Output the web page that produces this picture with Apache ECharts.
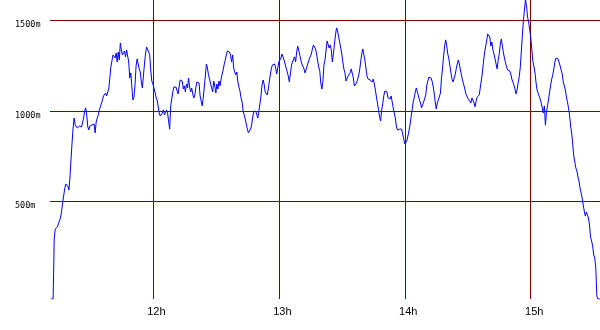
<!DOCTYPE html>
<html><head><meta charset="utf-8">
<script src="https://cdn.jsdelivr.net/npm/echarts@6/dist/echarts.min.js"></script>
<style>html,body{margin:0;padding:0;background:#fff}#c{width:600px;height:330px}</style>
</head><body><div id="c"></div>
<script>
// time of day in minutes since midnight (30 s log interval)
const timesMin = [
671.5,672,672.5,673,673.5,674,674.5,675,675.5,676,
676.5,677,677.5,678,678.5,679,679.5,680,680.5,681,
681.5,682,682.5,683,683.5,684,684.5,685,685.5,686,
686.5,687,687.5,688,688.5,689,689.5,690,690.5,691,
691.5,692,692.5,693,693.5,694,694.5,695,695.5,696,
696.5,697,697.5,698,698.5,699,699.5,700,700.5,701,
701.5,702,702.5,703,703.5,704,704.5,705,705.5,706,
706.5,707,707.5,708,708.5,709,709.5,710,710.5,711,
711.5,712,712.5,713,713.5,714,714.5,715,715.5,716,
716.5,717,717.5,718,718.5,719,719.5,720,720.5,721,
721.5,722,722.5,723,723.5,724,724.5,725,725.5,726,
726.5,727,727.5,728,728.5,729,729.5,730,730.5,731,
731.5,732,732.5,733,733.5,734,734.5,735,735.5,736,
736.5,737,737.5,738,738.5,739,739.5,740,740.5,741,
741.5,742,742.5,743,743.5,744,744.5,745,745.5,746,
746.5,747,747.5,748,748.5,749,749.5,750,750.5,751,
751.5,752,752.5,753,753.5,754,754.5,755,755.5,756,
756.5,757,757.5,758,758.5,759,759.5,760,760.5,761,
761.5,762,762.5,763,763.5,764,764.5,765,765.5,766,
766.5,767,767.5,768,768.5,769,769.5,770,770.5,771,
771.5,772,772.5,773,773.5,774,774.5,775,775.5,776,
776.5,777,777.5,778,778.5,779,779.5,780,780.5,781,
781.5,782,782.5,783,783.5,784,784.5,785,785.5,786,
786.5,787,787.5,788,788.5,789,789.5,790,790.5,791,
791.5,792,792.5,793,793.5,794,794.5,795,795.5,796,
796.5,797,797.5,798,798.5,799,799.5,800,800.5,801,
801.5,802,802.5,803,803.5,804,804.5,805,805.5,806,
806.5,807,807.5,808,808.5,809,809.5,810,810.5,811,
811.5,812,812.5,813,813.5,814,814.5,815,815.5,816,
816.5,817,817.5,818,818.5,819,819.5,820,820.5,821,
821.5,822,822.5,823,823.5,824,824.5,825,825.5,826,
826.5,827,827.5,828,828.5,829,829.5,830,830.5,831,
831.5,832,832.5,833,833.5,834,834.5,835,835.5,836,
836.5,837,837.5,838,838.5,839,839.5,840,840.5,841,
841.5,842,842.5,843,843.5,844,844.5,845,845.5,846,
846.5,847,847.5,848,848.5,849,849.5,850,850.5,851,
851.5,852,852.5,853,853.5,854,854.5,855,855.5,856,
856.5,857,857.5,858,858.5,859,859.5,860,860.5,861,
861.5,862,862.5,863,863.5,864,864.5,865,865.5,866,
866.5,867,867.5,868,868.5,869,869.5,870,870.5,871,
871.5,872,872.5,873,873.5,874,874.5,875,875.5,876,
876.5,877,877.5,878,878.5,879,879.5,880,880.5,881,
881.5,882,882.5,883,883.5,884,884.5,885,885.5,886,
886.5,887,887.5,888,888.5,889,889.5,890,890.5,891,
891.5,892,892.5,893,893.5,894,894.5,895,895.5,896,
896.5,897,897.5,898,898.5,899,899.5,900,900.5,901,
901.5,902,902.5,903,903.5,904,904.5,905,905.5,906,
906.5,907,907.5,908,908.5,909,909.5,910,910.5,911,
911.5,912,912.5,913,913.5,914,914.5,915,915.5,916,
916.5,917,917.5,918,918.5,919,919.5,920,920.5,921,
921.5,922,922.5,923,923.5,924,924.5,925,925.5,926,
926.5,927,927.5,928,928.5,929,929.5,930,930.5,931,
931.5,932,932.5,933
];
// altitude in metres
const altitudeM = [
-37,-37,-37,294,349,349,360,377,388,410,
443,493,531,570,597,597,586,564,630,730,
823,906,961,923,928,906,917,917,912,912,
912,961,1000,1017,978,912,895,917,906,923,
912,928,879,939,961,978,1006,1023,1033,1061,
1083,1094,1099,1083,1105,1121,1182,1243,1254,1309,
1320,1292,1320,1270,1325,1281,1375,1336,1309,1320,
1331,1298,1336,1325,1270,1182,1210,1132,1061,1077,
1143,1248,1287,1281,1232,1215,1160,1127,1193,1259,
1314,1353,1364,1325,1309,1226,1165,1149,1127,1105,
1077,1061,1028,989,972,972,989,1006,978,989,
1006,989,945,900,1028,1066,1105,1132,1138,1132,
1143,1094,1083,1171,1182,1165,1121,1138,1105,1149,
1127,1182,1132,1105,1127,1094,1072,1088,1132,1160,
1154,1154,1083,1055,1028,1072,1132,1193,1259,1237,
1199,1176,1182,1127,1105,1165,1138,1099,1149,1121,
1165,1138,1176,1204,1226,1259,1281,1309,1331,1320,
1325,1309,1270,1309,1237,1215,1199,1215,1160,1132,
1110,1072,1050,1000,978,956,928,900,879,873,
900,917,961,994,1000,1000,994,961,1000,1039,
1083,1143,1171,1149,1105,1116,1088,1121,1165,1204,
1237,1254,1248,1259,1237,1204,1204,1270,1281,1292,
1314,1320,1281,1259,1237,1226,1193,1160,1204,1248,
1270,1281,1298,1270,1325,1358,1358,1309,1281,1259,
1248,1232,1210,1221,1248,1259,1287,1298,1314,1342,
1364,1375,1342,1314,1276,1243,1221,1154,1121,1160,
1254,1281,1336,1386,1392,1347,1364,1336,1270,1314,
1369,1419,1458,1441,1408,1380,1347,1314,1270,1232,
1210,1165,1160,1193,1193,1210,1232,1232,1182,1138,
1127,1154,1149,1193,1226,1270,1314,1342,1347,1281,
1237,1193,1176,1165,1171,1176,1160,1176,1149,1116,
1077,1044,1006,967,945,1006,1039,1083,1110,1121,
1105,1072,1072,1066,1083,1050,1017,989,961,917,
895,900,900,900,900,873,846,818,807,835,
862,890,923,967,1006,1050,1072,1105,1127,1138,
1083,1061,1044,1017,1023,1050,1061,1088,1143,1165,
1187,1187,1182,1165,1138,1099,1050,1011,1044,1061,
1072,1099,1182,1237,1303,1358,1392,1358,1314,1287,
1248,1210,1176,1160,1171,1199,1232,1259,1281,1259,
1226,1199,1171,1149,1127,1099,1083,1072,1061,1066,
1044,1072,1061,1044,1023,1055,1077,1088,1088,1132,
1171,1215,1270,1320,1353,1386,1425,1436,1408,1358,
1380,1336,1314,1287,1259,1232,1281,1314,1369,1397,
1358,1320,1292,1265,1243,1226,1232,1221,1204,1176,
1160,1143,1121,1094,1116,1154,1187,1237,1325,1414,
1496,1557,1615,1579,1518,1491,1447,1408,1342,1276,
1248,1215,1160,1116,1099,1083,1066,1044,1017,989,
1028,922,994,1028,1066,1105,1143,1176,1199,1232,
1270,1292,1298,1287,1270,1248,1226,1204,1160,1138,
1116,1077,1050,1017,978,917,879,818,752,719,
686,669,636,614,575,548,520,482,448,421,
443,426,410,371,305,283,255,206,189,134,
-21,-37,-37,-37
];
const hourTicks = [720, 780, 840, 900];
const altTicks = [500, 1000, 1500];

const gridColor = '#800000';
const chart = echarts.init(document.getElementById('c'), null, {renderer: 'canvas'});
chart.setOption({
  animation: false,
  backgroundColor: '#ffffff',
  grid: {left: 50, right: 0, top: 0, bottom: 31},
  xAxis: {
    type: 'value', min: 671, max: 933,
    axisLine: {show: false},
    axisTick: {show: false, customValues: hourTicks},
    axisLabel: {customValues: hourTicks, formatter: v => (v / 60) + 'h',
      fontFamily: 'Liberation Sans', fontSize: 11, color: '#000', margin: 7, padding: [0, 0, 0, 7]},
    splitLine: {show: true, lineStyle: {color: gridColor, width: 1}}
  },
  yAxis: {
    type: 'value', min: -37, max: 1612,
    axisLine: {show: false},
    axisTick: {show: false, customValues: altTicks},
    axisLabel: {customValues: altTicks, formatter: v => v + 'm', align: 'left', verticalAlign: 'top',
      fontFamily: 'DejaVu Sans Mono', fontSize: 8.5, color: '#000', margin: 35},
    splitLine: {show: true, lineStyle: {color: gridColor, width: 1}}
  },
  series: [{
    type: 'line',
    data: timesMin.map((t, i) => [t, altitudeM[i]]),
    symbol: 'none', showSymbol: false,
    lineStyle: {color: '#0000ff', width: 1},
    clip: true
  }]
});
</script></body></html>
